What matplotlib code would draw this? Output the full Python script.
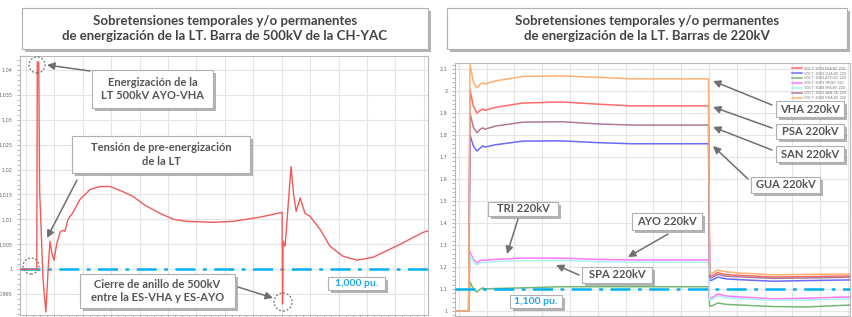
import matplotlib
matplotlib.use("Agg")
import matplotlib.pyplot as plt
import matplotlib.patheffects as pe
from matplotlib.patches import FancyBboxPatch, Circle
from matplotlib.transforms import IdentityTransform
from matplotlib.ticker import MultipleLocator, AutoMinorLocator

plt.rcParams['font.family'] = ['Lato', 'DejaVu Sans']

# ---- data: barra 500kV CH-YAC (p.u.)
t_500 = [-0.25, 0.38, 0.40, 0.45, 0.48, 0.60, 0.70, 0.78, 0.845, 0.92, 0.986, 1.08, 1.197,
         1.30, 1.373, 1.479, 1.655, 1.901, 2.254, 2.6, 2.958, 3.4, 3.768, 4.2, 4.718, 5.2,
         5.669, 6.585, 7.289, 8.2, 9.014, 9.03, 9.05, 9.12, 9.33, 9.42, 9.51, 9.65, 9.82,
         10.0, 10.35, 10.70, 11.16, 11.65, 12.22, 13.17, 13.98, 14.2]
v_500 = [1.0, 1.0, 1.0416, 1.0416, 1.016, 0.998, 0.9914, 1.000, 1.0056, 1.003, 1.0018, 1.005,
         1.0074, 1.0078, 1.0076, 1.010, 1.0114, 1.0140, 1.0160, 1.0166, 1.0166, 1.0156,
         1.0146, 1.0128, 1.0112, 1.0100, 1.0096, 1.0094, 1.0096, 1.0104, 1.0114, 0.9930,
         1.0056, 1.0046, 1.0206, 1.0150, 1.0116, 1.0143, 1.0112, 1.0106, 1.0080, 1.0046,
         1.0026, 1.0018, 1.0024, 1.005, 1.0074, 1.0078]

# ---- data: barras 220kV (p.u.)
t_220 = [-0.2, 0.35, 0.40, 0.52, 0.65, 0.76, 0.86, 0.94, 1.3, 2.3, 3.7, 5.0, 6.2, 8.98,
         9.02, 9.1, 9.32, 9.6, 10.1, 11.3, 12.5, 14.1]
psa = [1.0, 1.0, 2.005, 1.93, 1.90, 1.91, 1.918, 1.912, 1.925, 1.945, 1.95, 1.94, 1.932, 1.932,
       1.158, 1.16, 1.174, 1.165, 1.162, 1.154, 1.156, 1.159]
gua = [1.0, 1.0, 1.80, 1.75, 1.727, 1.74, 1.75, 1.745, 1.755, 1.772, 1.773, 1.765, 1.76, 1.76,
       1.138, 1.14, 1.154, 1.146, 1.142, 1.135, 1.138, 1.141]
ayo = [1.0, 1.0, 1.132, 1.10, 1.086, 1.098, 1.105, 1.100, 1.102, 1.105, 1.11, 1.11, 1.11, 1.11,
       1.022, 1.023, 1.036, 1.030, 1.027, 1.020, 1.018, 1.027]
tri = [1.0, 1.0, 1.268, 1.235, 1.218, 1.228, 1.232, 1.230, 1.234, 1.24, 1.24, 1.234, 1.232, 1.232,
       1.058, 1.060, 1.077, 1.068, 1.064, 1.055, 1.058, 1.064]
spa = [1.0, 1.0, 1.255, 1.225, 1.21, 1.218, 1.222, 1.220, 1.224, 1.228, 1.23, 1.224, 1.222, 1.222,
       1.050, 1.052, 1.068, 1.060, 1.056, 1.048, 1.050, 1.055]
san = [1.0, 1.0, 1.90, 1.835, 1.81, 1.825, 1.832, 1.826, 1.840, 1.858, 1.86, 1.85, 1.845, 1.845,
       1.150, 1.152, 1.166, 1.158, 1.155, 1.148, 1.150, 1.153]
vha = [1.0, 1.0, 2.118, 2.04, 2.014, 2.03, 2.036, 2.032, 2.045, 2.066, 2.068, 2.062, 2.055, 2.055,
       1.170, 1.172, 1.186, 1.178, 1.173, 1.164, 1.166, 1.168]

series = [("VOLT -8393 PSA.80  220", psa, "#ff6a6a"),
          ("VOLT -8383 GUA.80  220", gua, "#6a6aff"),
          ("VOLT -8383 AYO.80  220", ayo, "#74b874"),
          ("VOLT -8393 TRI.80  220", tri, "#ff78ff"),
          ("VOLT -8308 SPA.80  220", spa, "#a8f4f4"),
          ("VOLT -8392 SAN.TA  220", san, "#b07a98"),
          ("VOLT -8328 VHA.80  220", vha, "#ffb070")]

W, H = 852, 317
fig = plt.figure(figsize=(W / 100, H / 100), dpi=100)
fig.patch.set_facecolor("white")


def fr(x0, y0, x1, y1):
    # pixel box (top-left origin) -> figure fraction rect
    return [x0 / W, 1 - y1 / H, (x1 - x0) / W, (y1 - y0) / H]


def box(x0, y0, x1, y1, text, size=8, color="#555555", weight="bold"):
    p = FancyBboxPatch((x0 / W, 1 - y1 / H), (x1 - x0) / W, (y1 - y0) / H,
                       boxstyle="square,pad=0", transform=fig.transFigure,
                       fc="white", ec="#b0b0b0", lw=0.8, zorder=5)
    p.set_path_effects([pe.withSimplePatchShadow(offset=(2.5, -2.5), shadow_rgbFace="#777777", alpha=0.55)])
    fig.add_artist(p)
    fig.text((x0 + x1) / 2 / W, 1 - (y0 + y1) / 2 / H, text, ha="center", va="center",
             fontsize=size, color=color, fontweight=weight, linespacing=1.25, zorder=6)


def arrow(ax, x0, y0, x1, y1):
    ax.annotate("", xy=(x1, H - y1), xytext=(x0, H - y0),
                xycoords="figure pixels", textcoords="figure pixels",
                arrowprops=dict(arrowstyle="-|>", color="#707070", lw=1.1,
                                mutation_scale=11, shrinkA=0, shrinkB=0), zorder=7)


def ring(x, y, r):
    c = Circle((x, H - y), r, transform=IdentityTransform(), fill=False,
               ec="#707070", lw=0.9, ls=(0, (1.5, 1.5)), zorder=7)
    fig.add_artist(c)


def style(ax):
    ax.grid(True, which="major", color="#e4e4e4", lw=0.8)
    ax.xaxis.set_major_locator(MultipleLocator(1))
    ax.xaxis.set_minor_locator(AutoMinorLocator(4))
    ax.yaxis.set_minor_locator(AutoMinorLocator(5))
    ax.tick_params(axis="both", which="both", labelsize=3.5, labelcolor="#666666",
                   color="#999999", length=2, width=0.5)
    ax.tick_params(axis="x", labelbottom=False)
    for lbl in ax.get_yticklabels():
        lbl.set_family("DejaVu Sans")
    for s in ax.spines.values():
        s.set_color("#b8b8b8")
        s.set_linewidth(0.8)


# ---- left panel
ax1 = fig.add_axes(fr(20, 56, 428, 315))
ax1.plot(t_500, v_500, color="#f25a5a", lw=1.0, zorder=3)
ax1.axhline(1.0, color="#00b0f0", lw=1.8, ls=(0, (8, 3, 1.5, 3)), zorder=2)
ax1.set_xlim(-0.21, 14.15)
ax1.set_ylim(0.9908, 1.0428)
ax1.set_yticks([0.995 + 0.005 * i for i in range(10)])
ax1.set_yticklabels(["0,995", "1", "1,005", "1,01", "1,015", "1,02", "1,025", "1,03", "1,035", "1,04"])
style(ax1)

# ---- right panel
ax2 = fig.add_axes(fr(455, 63, 850, 316))
for name, vals, col in series:
    ax2.plot(t_220, vals, color=col, lw=1.1, label=name, zorder=3)
ax2.axhline(1.1, color="#00b0f0", lw=1.8, ls=(0, (8, 3, 1.5, 3)), zorder=4)
ax2.set_xlim(-0.14, 14.07)
ax2.set_ylim(0.977, 2.127)
ax2.set_yticks([1.0 + 0.1 * i for i in range(12)])
ax2.set_yticklabels(["1", "1,1", "1,2", "1,3", "1,4", "1,5", "1,6", "1,7", "1,8", "1,9", "2", "2,1"])
style(ax2)
leg = ax2.legend(loc="upper right", fontsize=2.6, frameon=False, handlelength=2.5,
                 labelspacing=0.25, borderaxespad=0.6)
for txt in leg.get_texts():
    txt.set_color("#777777")

# ---- title boxes
box(22, 8, 428, 49, "Sobretensiones temporales y/o permanentes\nde energización de la LT. Barra de 500kV de la CH-YAC",
    size=9.5, color="#444444")
box(447, 8, 847, 49, "Sobretensiones temporales y/o permanentes\nde energización de la LT. Barras de 220kV",
    size=9.5, color="#444444")

# ---- left annotations
box(92, 70, 213, 108, "Energización de la\nLT 500kV AYO-VHA")
box(72, 136, 250, 173, "Tensión de pre-energización\nde la LT")
box(80, 274, 235, 308, "Cierre de anillo de 500kV\nentre la ES-VHA y ES-AYO")
box(328, 277, 385, 290, "1,000 pu.", size=7.5, color="#1fa8e8")
arrow(ax1, 90, 71, 47, 65)
arrow(ax1, 77, 180, 47, 238)
arrow(ax1, 238, 287, 273, 298)
ring(37, 65, 8)
ring(31, 266, 8)
ring(283, 302, 9)

# ---- right annotations
box(776, 101, 844, 117, "VHA 220kV")
box(776, 124, 844, 139, "PSA 220kV")
box(776, 146, 844, 162, "SAN 220kV")
box(751, 177, 820, 193, "GUA 220kV")
box(488, 202, 558, 216, "TRI 220kV")
box(632, 213, 702, 230, "AYO 220kV")
box(582, 267, 652, 283, "SPA 220kV")
box(510, 295, 562, 308, "1,100 pu.", size=7.5, color="#1fa8e8")
arrow(ax2, 772, 105, 713, 81)
arrow(ax2, 772, 128, 713, 107)
arrow(ax2, 772, 150, 713, 127)
arrow(ax2, 748, 179, 713, 146)
arrow(ax2, 518, 219, 507, 254)
arrow(ax2, 668, 234, 628, 257)
arrow(ax2, 579, 275, 556, 265)

fig.savefig("out.png", dpi=100)
